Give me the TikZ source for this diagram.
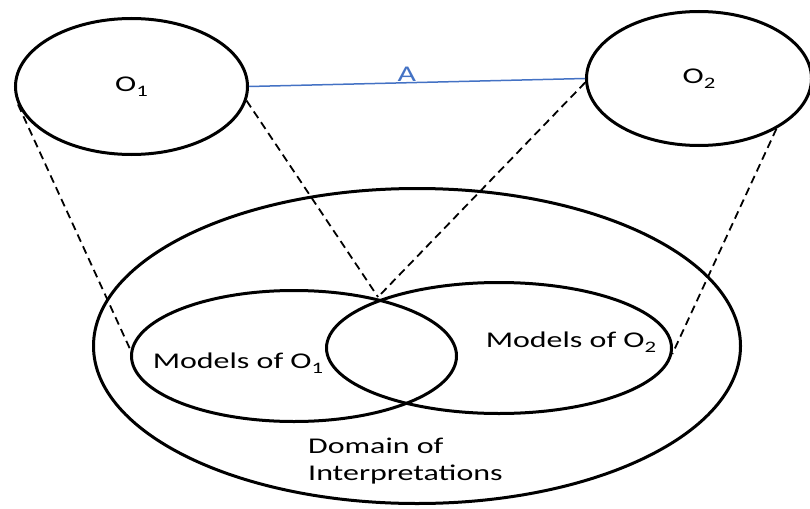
\documentclass[tikz,border=0pt]{standalone}
\usepackage{fontspec}
\setmainfont{Carlito}[FakeStretch=1.42]
\usetikzlibrary{shapes.geometric}

\definecolor{linkblue}{RGB}{68,114,196}
\newcommand{\osub}[1]{\raisebox{-0.22em}{\fontsize{16}{16}\selectfont #1}}

\tikzset{
  oval/.style={ellipse, draw, line width=3pt, inner sep=0pt},
  maplink/.style={line width=1.8pt, dash pattern=on 8pt off 5pt},
  lbl/.style={font=\fontsize{22.5}{27}\selectfont, inner sep=0pt}
}

\begin{document}
\begin{tikzpicture}[x=1pt, y=-1pt]
  \useasboundingbox (0,0) rectangle (810,508);

  % Ontologies
  \node[oval, lbl, minimum width=232, minimum height=136] (o1) at (131.5,86.5) {O\osub{1}};
  \node[oval, lbl, minimum width=225, minimum height=134] (o2) at (699,78.5) {O\osub{2}};

  % Domain and models
  \node[oval, minimum width=647, minimum height=315] (domain) at (417,346) {};
  \node[oval, minimum width=325, minimum height=131] (m1) at (294,356) {};
  \node[oval, minimum width=345, minimum height=131] (m2) at (499,348) {};
  \coordinate (meet) at (378,297);

  % Labels
  \node[lbl] (m1text) at (238,363) {Models of O\osub{1}};
  \node[lbl] (m2text) at (571,342) {Models of O\osub{2}};
  \node[lbl, align=left, anchor=west] (domaintext) at (308,461)
    {Domain of\\Interpretations};

  % Alignment
  \draw[linkblue, line width=1.5pt] (o1.east)
    -- node[lbl, pos=0.47, above, inner sep=0.5pt] (alabel) {A} (o2.west);

  % Interpretation links
  \draw[maplink] (o1.189) -- (m1.178);
  \draw[maplink] (o1.353) -- (meet);
  \draw[maplink] (o2.182) -- (meet);
  \draw[maplink] (o2.327) -- (m2.358);
\end{tikzpicture}
\end{document}
